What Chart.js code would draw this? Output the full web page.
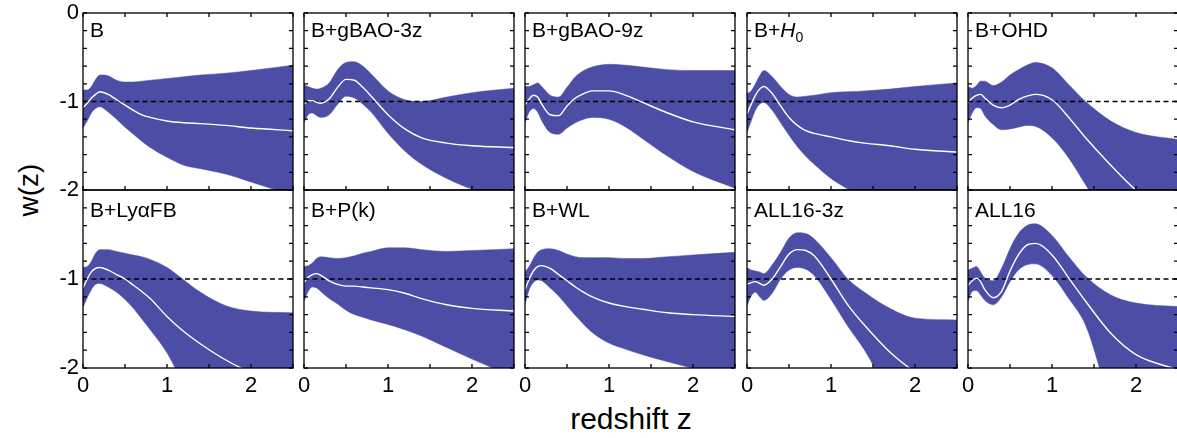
<!DOCTYPE html>
<html>
<head>
<meta charset="utf-8">
<script src="https://cdn.jsdelivr.net/npm/chart.js@4/dist/chart.umd.min.js"></script>
<style>
    body { margin: 0; background: #fff; font-family: "Liberation Sans", Arial, sans-serif; }
    #page { position: relative; width: 1177px; height: 438px; overflow: hidden; }
    canvas { position: absolute; }
    .panel-label { position: absolute; font-size: 21px; line-height: 1; color: #000; white-space: nowrap; }
    .panel-label sub { font-size: 14px; vertical-align: -5px; }
    #xtitle { position: absolute; left: 0; width: 1262px; top: 404px; text-align: center; font-size: 30px; line-height: 1; }
    #ytitle { position: absolute; left: 29px; top: 190px; font-size: 28px; line-height: 1; transform: translate(-50%, -50%) rotate(-90deg); white-space: nowrap; }
</style>
</head>
<body>
<div id="page">
    <div id="xtitle">redshift z</div>
    <div id="ytitle">w(z)</div>
</div>
<script>
// redshift sample points shared by all panels
const z = [0, 0.05, 0.1, 0.15, 0.2, 0.3, 0.4, 0.5, 0.6, 0.7, 0.8, 1.0, 1.2, 1.4, 1.7, 2.0, 2.5];

const labels = ['B', 'B+gBAO-3z', 'B+gBAO-9z', 'B+<i>H</i><sub>0</sub>', 'B+OHD',
                'B+Ly\u03b1FB', 'B+P(k)', 'B+WL', 'ALL16-3z', 'ALL16'];

// upper / mean / lower of w(z) for each data combination
const bUp  = [-0.87,-0.87,-0.83,-0.75,-0.70,-0.71,-0.76,-0.78,-0.78,-0.77,-0.76,-0.74,-0.72,-0.70,-0.68,-0.65,-0.59];
const bMid = [-1.07,-1.02,-0.96,-0.92,-0.89,-0.92,-0.98,-1.04,-1.10,-1.15,-1.18,-1.22,-1.24,-1.25,-1.27,-1.30,-1.33];
const bLo  = [-1.30,-1.22,-1.13,-1.08,-1.06,-1.12,-1.20,-1.29,-1.37,-1.45,-1.52,-1.63,-1.72,-1.76,-1.82,-1.91,-2.06];

const g3Up  = [-0.81,-0.83,-0.85,-0.86,-0.85,-0.79,-0.64,-0.56,-0.55,-0.60,-0.69,-0.88,-0.98,-1.00,-0.95,-0.90,-0.85];
const g3Mid = [-1.03,-0.99,-0.99,-1.01,-1.02,-0.97,-0.84,-0.75,-0.76,-0.84,-0.94,-1.15,-1.31,-1.41,-1.47,-1.50,-1.52];
const g3Lo  = [-1.24,-1.15,-1.13,-1.16,-1.18,-1.15,-1.03,-0.94,-0.96,-1.03,-1.12,-1.36,-1.56,-1.71,-1.87,-1.99,-2.12];

const g9Up  = [-0.83,-0.83,-0.81,-0.79,-0.83,-0.93,-0.95,-0.84,-0.72,-0.65,-0.61,-0.58,-0.59,-0.61,-0.64,-0.65,-0.65];
const g9Mid = [-1.04,-0.97,-0.93,-0.95,-1.03,-1.15,-1.16,-1.05,-0.96,-0.91,-0.88,-0.88,-0.93,-1.01,-1.13,-1.23,-1.32];
const g9Lo  = [-1.24,-1.12,-1.08,-1.12,-1.22,-1.35,-1.37,-1.30,-1.24,-1.20,-1.18,-1.20,-1.29,-1.42,-1.62,-1.79,-1.98];

const h0Up  = [-0.91,-0.88,-0.80,-0.71,-0.65,-0.72,-0.83,-0.92,-0.95,-0.94,-0.93,-0.90,-0.89,-0.88,-0.86,-0.83,-0.79];
const h0Mid = [-1.14,-1.03,-0.93,-0.86,-0.83,-0.91,-1.05,-1.18,-1.27,-1.33,-1.36,-1.40,-1.44,-1.47,-1.50,-1.54,-1.57];
const h0Lo  = [-1.35,-1.22,-1.10,-1.03,-1.01,-1.10,-1.24,-1.38,-1.51,-1.62,-1.71,-1.87,-1.99,-2.10,-2.20,-2.30,-2.40];

const ohdUp  = [-0.83,-0.85,-0.82,-0.77,-0.77,-0.82,-0.78,-0.70,-0.64,-0.59,-0.56,-0.62,-0.81,-1.00,-1.22,-1.35,-1.43];
const ohdMid = [-1.02,-0.96,-0.93,-0.92,-0.96,-1.04,-1.07,-1.04,-0.98,-0.94,-0.92,-0.98,-1.18,-1.41,-1.72,-2.00,-2.30];
const ohdLo  = [-1.24,-1.13,-1.07,-1.08,-1.16,-1.26,-1.32,-1.31,-1.29,-1.27,-1.28,-1.41,-1.64,-1.94,-2.40,-2.80,-3.20];

const lyaUp  = [-0.87,-0.86,-0.80,-0.71,-0.67,-0.67,-0.69,-0.71,-0.73,-0.75,-0.78,-0.87,-1.01,-1.15,-1.30,-1.36,-1.38];
const lyaMid = [-1.10,-1.00,-0.92,-0.88,-0.87,-0.90,-0.95,-1.00,-1.07,-1.14,-1.22,-1.42,-1.59,-1.73,-1.91,-2.05,-2.20];
const lyaLo  = [-1.32,-1.21,-1.12,-1.06,-1.05,-1.09,-1.15,-1.23,-1.33,-1.45,-1.57,-1.83,-2.20,-2.60,-3.10,-3.50,-4.00];

const pkUp  = [-0.86,-0.85,-0.82,-0.77,-0.75,-0.76,-0.77,-0.76,-0.74,-0.71,-0.69,-0.65,-0.65,-0.67,-0.69,-0.68,-0.66];
const pkMid = [-1.04,-0.98,-0.95,-0.94,-0.96,-1.02,-1.06,-1.08,-1.08,-1.09,-1.10,-1.12,-1.16,-1.22,-1.29,-1.33,-1.36];
const pkLo  = [-1.25,-1.14,-1.09,-1.10,-1.14,-1.22,-1.28,-1.35,-1.40,-1.43,-1.46,-1.51,-1.57,-1.64,-1.77,-1.90,-2.10];

const wlUp  = [-0.92,-0.86,-0.77,-0.70,-0.67,-0.66,-0.68,-0.72,-0.75,-0.76,-0.76,-0.76,-0.77,-0.77,-0.75,-0.73,-0.70];
const wlMid = [-1.12,-1.00,-0.91,-0.86,-0.85,-0.88,-0.95,-1.02,-1.09,-1.15,-1.20,-1.27,-1.31,-1.34,-1.38,-1.40,-1.42];
const wlLo  = [-1.28,-1.12,-1.04,-1.01,-1.02,-1.10,-1.19,-1.30,-1.41,-1.51,-1.60,-1.72,-1.79,-1.85,-1.93,-2.00,-2.06];

const a3Up  = [-0.87,-0.90,-0.91,-0.92,-0.94,-0.84,-0.70,-0.54,-0.48,-0.49,-0.55,-0.76,-1.00,-1.15,-1.33,-1.44,-1.46];
const a3Mid = [-1.06,-1.04,-1.03,-1.05,-1.07,-1.00,-0.86,-0.72,-0.67,-0.68,-0.74,-1.00,-1.29,-1.52,-1.82,-2.05,-2.40];
const a3Lo  = [-1.30,-1.19,-1.15,-1.20,-1.24,-1.16,-1.00,-0.90,-0.87,-0.89,-0.96,-1.23,-1.53,-1.80,-2.30,-2.70,-3.20];

const allUp  = [-0.90,-0.88,-0.86,-0.92,-0.99,-1.02,-0.88,-0.66,-0.49,-0.40,-0.38,-0.51,-0.75,-0.97,-1.18,-1.27,-1.31];
const allMid = [-1.07,-1.02,-0.99,-1.03,-1.12,-1.21,-1.14,-0.91,-0.73,-0.62,-0.60,-0.73,-0.99,-1.25,-1.61,-1.85,-2.02];
const allLo  = [-1.25,-1.14,-1.13,-1.18,-1.24,-1.29,-1.20,-1.03,-0.90,-0.84,-0.83,-0.96,-1.22,-1.52,-2.40,-3.00,-3.50];

const wLambda = -1;
const xTicks = [0, 1, 2];
const yTicks = [0, -1, -2];

const bands = [
    [bUp, bMid, bLo], [g3Up, g3Mid, g3Lo], [g9Up, g9Mid, g9Lo], [h0Up, h0Mid, h0Lo], [ohdUp, ohdMid, ohdLo],
    [lyaUp, lyaMid, lyaLo], [pkUp, pkMid, pkLo], [wlUp, wlMid, wlLo], [a3Up, a3Mid, a3Lo], [allUp, allMid, allLo]
];

const FONT = '"Liberation Sans", Arial, sans-serif';
const BAND = '#4c4da4';
const colLeft = [83, 304, 525, 747, 968];
const rowTop = [13, 190];
const rowH = [177, 178];
const labelDy = [6, 9];
const plotW = 210;
const padL = 45, padT = 20, padR = 8, padB = 40;

// box round the plot and the ticks pointing inwards
const frame = {
    id: 'frame',
    afterDatasetsDraw(chart, args, opts) {
        const { ctx, chartArea: a, scales: { x, y } } = chart;
        ctx.save();
        ctx.strokeStyle = '#000';
        ctx.lineWidth = 1.3;
        ctx.beginPath();
        x.ticks.forEach(t => {
            const px = x.getPixelForValue(t.value);
            ctx.moveTo(px, a.bottom); ctx.lineTo(px, a.bottom - 4);
            if (opts.topTicks) { ctx.moveTo(px, a.top); ctx.lineTo(px, a.top + 4); }
        });
        y.ticks.forEach(t => {
            const py = y.getPixelForValue(t.value);
            ctx.moveTo(a.left, py); ctx.lineTo(a.left + 4, py);
            ctx.moveTo(a.right, py); ctx.lineTo(a.right - 4, py);
        });
        ctx.stroke();
        ctx.strokeRect(a.left, a.top, a.right - a.left, a.bottom - a.top);
        ctx.restore();
    }
};

const page = document.getElementById('page');
const pts = arr => arr.map((v, i) => ({ x: z[i], y: v }));

bands.forEach((b, k) => {
    const row = Math.floor(k / 5), col = k % 5;
    const showX = row === 1, showY = col === 0;
    const h = rowH[row];

    const canvas = document.createElement('canvas');
    canvas.width = padL + plotW + padR;
    canvas.height = padT + h + padB;
    canvas.style.left = (colLeft[col] - padL) + 'px';
    canvas.style.top = (rowTop[row] - padT) + 'px';
    page.appendChild(canvas);

    const lbl = document.createElement('div');
    lbl.className = 'panel-label';
    lbl.innerHTML = labels[k];
    lbl.style.left = (colLeft[col] + 7) + 'px';
    lbl.style.top = (rowTop[row] + labelDy[row]) + 'px';
    page.appendChild(lbl);

    new Chart(canvas, {
        type: 'line',
        data: {
            datasets: [
                { data: pts(b[1]), borderColor: '#fff', borderWidth: 1.4, pointRadius: 0,
                  cubicInterpolationMode: 'monotone', fill: false, order: 0 },
                { data: [{ x: 0, y: wLambda }, { x: 2.5, y: wLambda }], borderColor: '#000',
                  borderWidth: 1.5, borderDash: [5, 3.5], pointRadius: 0, fill: false, order: 1 },
                { data: pts(b[0]), borderColor: BAND, borderWidth: 0.5, pointRadius: 0,
                  cubicInterpolationMode: 'monotone', fill: '+1', backgroundColor: BAND, order: 2 },
                { data: pts(b[2]), borderColor: BAND, borderWidth: 0.5, pointRadius: 0,
                  cubicInterpolationMode: 'monotone', fill: false, order: 3 }
            ]
        },
        options: {
            responsive: false,
            animation: false,
            layout: { padding: { left: 0, top: padT, right: padR, bottom: 0 } },
            plugins: { legend: { display: false }, tooltip: { enabled: false }, frame: { topTicks: row === 0 } },
            scales: {
                x: {
                    type: 'linear', min: 0, max: 2.5,
                    afterFit: s => { s.height = padB; },
                    grid: { display: false, drawTicks: false },
                    border: { display: false },
                    ticks: {
                        stepSize: 0.5, autoSkip: false, maxRotation: 0, padding: 5,
                        color: '#000', font: { family: FONT, size: 22 },
                        callback: v => (showX && xTicks.includes(v)) ? String(v) : ''
                    }
                },
                y: {
                    min: -2, max: 0,
                    afterFit: s => { s.width = padL; },
                    grid: { display: false, drawTicks: false },
                    border: { display: false },
                    ticks: {
                        stepSize: 0.2, autoSkip: false, padding: 4,
                        color: '#000', font: { family: FONT, size: 22 },
                        callback: v => {
                            const r = Math.round(v);
                            if (!showY || Math.abs(v - r) > 1e-6 || !yTicks.includes(r)) return '';
                            if (row === 1 && r === 0) return '';
                            return String(r);
                        }
                    }
                }
            }
        },
        plugins: [frame]
    });
});
</script>
</body>
</html>
